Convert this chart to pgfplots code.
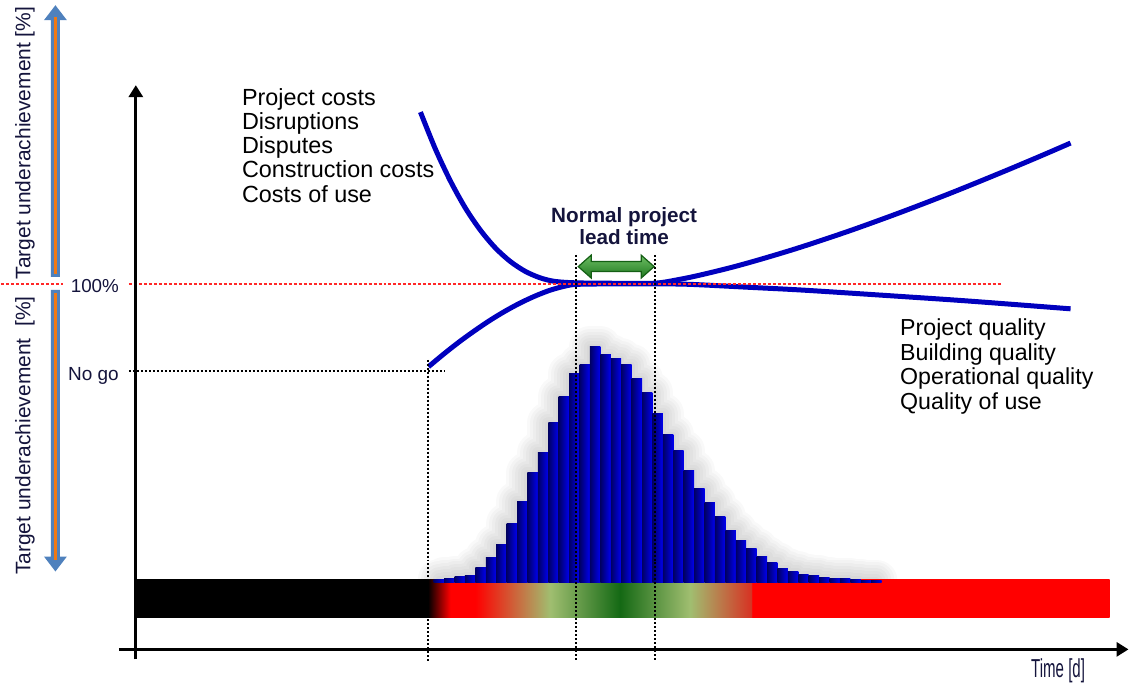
\documentclass[border=0pt]{standalone}
\usepackage{pgfplots}
\pgfplotsset{compat=1.18}
\usepackage{pgfplotstable}
\usepackage{fontspec}
\setmainfont{Liberation Sans}
\usetikzlibrary{arrows.meta}
\definecolor{curveblue}{RGB}{0,0,190}
\definecolor{navy}{RGB}{20,20,60}
\definecolor{steel}{RGB}{79,129,189}
\definecolor{orng}{RGB}{240,120,20}
\definecolor{lgreen}{RGB}{160,190,112}
\definecolor{dgreen}{RGB}{20,105,20}
\definecolor{bred}{RGB}{255,0,0}
\definecolor{redend}{RGB}{215,50,35}
\definecolor{barL}{RGB}{0,0,100}
\definecolor{barR}{RGB}{0,0,240}
\definecolor{agreenL}{RGB}{110,190,100}
\definecolor{agreenD}{RGB}{30,120,30}
\definecolor{agreenB}{RGB}{20,95,20}
\definecolor{dotred}{RGB}{255,40,40}

\pgfdeclarehorizontalshading{bandshade}{100bp}{color(0bp)=(black); color(25bp)=(black);
 color(26.65bp)=(bred); color(28.48bp)=(bred); color(33.97bp)=(lgreen); color(39.10bp)=(dgreen);
 color(44.23bp)=(lgreen); color(48.74bp)=(redend); color(48.78bp)=(bred); color(75bp)=(bred); color(100bp)=(bred)}

\pgfplotstableread{
x h
438.50 3
448.93 4.3
459.36 6
469.79 7
480.22 15
490.65 25
501.08 38
511.51 59
521.94 81
532.37 110
542.80 130
553.23 160
563.66 186
574.09 209
584.52 218
594.95 236
605.38 228
615.81 224
626.24 218
636.67 204
647.10 190
657.53 169
667.96 148
678.39 132
688.82 112
699.25 94
709.68 80
720.11 66
730.54 52
740.97 42
751.40 34
761.83 26
772.26 20
782.69 14
793.12 11
803.55 8
813.98 7
824.41 5
834.84 4
845.27 4
855.70 3
866.13 2
876.56 2
}\bars

\begin{document}
\begin{tikzpicture}
\begin{axis}[
  scale only axis, width=565pt, height=340.5pt,
  xmin=0, xmax=1130, ymin=-98, ymax=583,
  axis lines=none, clip=false,
]
% soft glow behind bars
\pgfplotsinvokeforeach{3,6,9,12,15,18,21}{
\addplot[const plot mark mid, draw=black, opacity=0.022, line width=#1pt, line join=round, line cap=round, forget plot] table[x=x,y=h]{\bars};
}

% colour band
\addplot[draw=none, fill=black] coordinates {(135,3) (428,3) (428,-35.5) (135,-35.5)} -- cycle;
\addplot[draw=none, shading=bandshade] coordinates {(427.5,3) (1110,3) (1110,-35.5) (427.5,-35.5)} -- cycle;

% histogram, one shaded bar each
\pgfplotsinvokeforeach{0,...,42}{
  \pgfplotstablegetelem{#1}{x}\of\bars \let\bx\pgfplotsretval
  \pgfplotstablegetelem{#1}{h}\of\bars \let\bh\pgfplotsretval
  \edef\doplot{\noexpand\addplot[ybar, bar width=10.43, bar shift=0pt, draw=none, left color=barL, right color=barR, forget plot] coordinates {(\bx,\bh)};}
  \doplot
}

% curves
\addplot[curveblue, line width=2.5pt, smooth, tension=0.5] coordinates {
(420,471) (435,433.9) (450,402) (465,374.9) (480,352.8) (495,335) (510,321.4) (525,311.5)
(540,305) (555,301.4) (577,300) (615,299.6) (655,299.7) (680,303.6) (700,307.8) (730,315.1)
(760,323.4) (800,335.5) (850,352.2) (900,370.3) (950,389.5) (1000,409.8) (1040,426.6) (1071,440)};
\addplot[curveblue, line width=2.5pt, smooth, tension=0.5] coordinates {
(428,216) (445,230.1) (460,241.8) (475,252.6) (490,262.7) (505,271.8) (520,279.9) (535,286.9)
(550,292.7) (565,296.8) (577,298.5) (615,299) (655,299) (690,298.5) (750,295.5)
(807,292.5) (907,286) (973,281.5) (1071,274)};

% reference lines
\draw[dotred, line width=1pt, dash pattern=on 1.5pt off 1pt] (axis cs:0,298.5) -- (axis cs:62,298.5);
\draw[dotred, line width=1pt, dash pattern=on 1.5pt off 1pt] (axis cs:128,298.5) -- (axis cs:1001,298.5);
\draw[black, line width=1pt, dash pattern=on 1pt off 1pt] (axis cs:128,212) -- (axis cs:445,212);
\draw[black, line width=1pt, dash pattern=on 1pt off 1pt] (axis cs:427.5,223) -- (axis cs:427.5,-79);
\draw[black, line width=1pt, dash pattern=on 1pt off 1pt] (axis cs:576,328) -- (axis cs:576,-79);
\draw[black, line width=1pt, dash pattern=on 1pt off 1pt] (axis cs:655.3,328) -- (axis cs:655.3,-79);

% axes
\draw[line width=1.5pt, -{Triangle[length=6pt,width=7pt]}] (axis cs:135,-77) -- (axis cs:135,498);
\draw[line width=1.5pt, -{Triangle[length=6pt,width=7pt]}] (axis cs:118,-67) -- (axis cs:1129,-67);

% green double arrow
\draw[agreenB, line width=0.6pt, top color=agreenL, bottom color=agreenD]
 (axis cs:578,316.3) -- (axis cs:591,327.8) -- (axis cs:591,321.3) -- (axis cs:641,321.3)
 -- (axis cs:641,327.8) -- (axis cs:654,316.3) -- (axis cs:641,304.8) -- (axis cs:641,311.3)
 -- (axis cs:591,311.3) -- (axis cs:591,304.8) -- cycle;

% left double arrows
\fill[steel] (axis cs:54.5,578) -- (axis cs:66,563) -- (axis cs:59,563) -- (axis cs:59,306)
 -- (axis cs:50,306) -- (axis cs:50,563) -- (axis cs:43,563) -- cycle;
\draw[orng, line width=1.5pt] (axis cs:54.5,566) -- (axis cs:54.5,309);
\fill[steel] (axis cs:54.5,11) -- (axis cs:66,26) -- (axis cs:59,26) -- (axis cs:59,293)
 -- (axis cs:50,293) -- (axis cs:50,26) -- (axis cs:43,26) -- cycle;
\draw[orng, line width=1.5pt] (axis cs:54.5,23) -- (axis cs:54.5,290);

% texts
\node[rotate=90, text=navy, font=\fontsize{10.5}{12}\selectfont] at (axis cs:24,440) {Target underachievement [\%]};
\node[rotate=90, text=navy, font=\fontsize{10.5}{12}\selectfont] at (axis cs:24,147) {Target underachievement \ [\%]};

\node[anchor=base, text=navy, font=\fontsize{9.4}{11}\selectfont] at (axis cs:94,290) {100\%};
\node[anchor=base, text=navy, font=\fontsize{9.5}{11}\selectfont] at (axis cs:92.5,202) {No go};

\begin{scope}[every node/.style={anchor=base west, inner sep=0pt, font=\fontsize{11.7}{13}\selectfont}]
\node at (axis cs:241,478) {Project costs};
\node at (axis cs:241,454) {Disruptions};
\node at (axis cs:241,429.5) {Disputes};
\node at (axis cs:241,405) {Construction costs};
\node at (axis cs:241,380.5) {Costs of use};
\end{scope}
\begin{scope}[every node/.style={anchor=base west, inner sep=0pt, font=\fontsize{11.6}{13}\selectfont}]
\node at (axis cs:900,247) {Project quality};
\node at (axis cs:900,222) {Building quality};
\node at (axis cs:900,198) {Operational quality};
\node at (axis cs:900,173) {Quality of use};
\end{scope}

\node[anchor=base, text=navy, inner sep=0pt, font=\bfseries\fontsize{10.35}{12}\selectfont] at (axis cs:624,360) {Normal project};
\node[anchor=base, text=navy, inner sep=0pt, font=\bfseries\fontsize{10.35}{12}\selectfont] at (axis cs:624,338) {lead time};

\node[anchor=base, text=navy, inner sep=0pt] at (axis cs:1058.5,-95) {\scalebox{0.58}[1]{\fontsize{13}{14}\selectfont Time [d]}};
\end{axis}
\end{tikzpicture}
\end{document}
